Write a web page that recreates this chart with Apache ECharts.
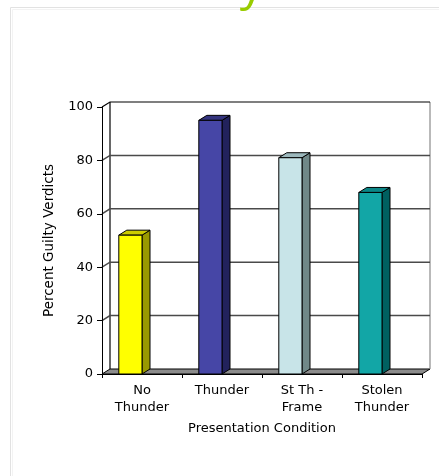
<!DOCTYPE html>
<html>
<head>
<meta charset="utf-8">
<script src="https://cdn.jsdelivr.net/npm/echarts@6/dist/echarts.min.js"></script>
<style>
  html, body { margin: 0; padding: 0; background: #ffffff; }
  #chart { width: 439px; height: 476px; }
</style>
</head>
<body>
<div id="chart"></div>
<script>
// Conditions and percent of guilty verdicts in each
const categories = ['No\nThunder', 'Thunder', 'St Th -\nFrame', 'Stolen\nThunder'];
const guiltyPercent = [52, 95, 81, 68];
const valueTicks = [0, 20, 40, 60, 80, 100];

// Face colours for each bar: front, top, side
const frontColors = ['#ffff00', '#4646a6', '#c8e4e8', '#12a6a6'];
const topColors = ['#cccc00', '#34347e', '#9cb8bc', '#0b8686'];
const sideColors = ['#999900', '#22225c', '#708888', '#006060'];

// Depth of the pseudo-3D box
const DX = 8, DY = 5;

const chart = echarts.init(document.getElementById('chart'), null, { renderer: 'canvas' });
const FONT = '"DejaVu Sans", Verdana, sans-serif';

// Back wall gridlines, side-wall diagonals and floor
function renderWall(params, api) {
  const cs = params.coordSys;
  const v = api.value(0);
  const y = api.coord([0, v])[1];
  const x0 = cs.x, x1 = cs.x + cs.width;
  const children = [];
  if (v === 0) {
    children.push({
      type: 'polygon',
      shape: { points: [[x0, y], [x1, y], [x1 + DX, y - DY], [x0 + DX, y - DY]] },
      style: { fill: '#8c8c8c', stroke: '#000', lineWidth: 1 }
    });
    const yTop = cs.y;
    children.push({
      type: 'line',
      shape: { x1: x0 + DX, y1: y - DY, x2: x0 + DX, y2: yTop - DY },
      style: { stroke: '#000', lineWidth: 1.2 }
    });
    children.push({
      type: 'line',
      shape: { x1: x1 + DX, y1: y - DY, x2: x1 + DX, y2: yTop - DY },
      style: { stroke: '#8a8a8a', lineWidth: 1.2 }
    });
  } else {
    const top = v === valueTicks[valueTicks.length - 1];
    children.push({
      type: 'polyline',
      shape: { points: [[x0, y], [x0 + DX, y - DY], [x1 + DX, y - DY]] },
      style: { stroke: top ? '#000' : '#4a4a4a', lineWidth: top ? 1.2 : 1.5, fill: null }
    });
  }
  return { type: 'group', children: children };
}

// Bars drawn as boxes with front, top and side faces
function renderBar(params, api) {
  const i = api.value(0);
  const v = api.value(1);
  const p = api.coord([i, v]);
  const b = api.coord([i, 0]);
  const w = api.size([1, 0])[0] * 0.29;
  const xr = p[0], xl = p[0] - w;
  const yt = p[1], yb = b[1];
  const stroke = { stroke: '#000', lineWidth: 1 };
  return {
    type: 'group',
    children: [
      {
        type: 'polygon',
        shape: { points: [[xr, yt], [xr + DX, yt - DY], [xr + DX, yb - DY], [xr, yb]] },
        style: Object.assign({ fill: sideColors[i] }, stroke)
      },
      {
        type: 'polygon',
        shape: { points: [[xl, yt], [xl + DX, yt - DY], [xr + DX, yt - DY], [xr, yt]] },
        style: Object.assign({ fill: topColors[i] }, stroke)
      },
      {
        type: 'rect',
        shape: { x: xl, y: yt, width: w, height: yb - yt },
        style: Object.assign({ fill: frontColors[i] }, stroke)
      }
    ]
  };
}

chart.setOption({
  animation: false,
  backgroundColor: '#ffffff',
  graphic: [
    {
      type: 'text', left: 134, top: -38, z: 1,
      style: { text: 'Guilty Verdicts', fill: '#99cc00', font: '48px "Open Sans", sans-serif' }
    },
    {
      type: 'rect', shape: { x: 10.5, y: 7.5, width: 460, height: 500 },
      style: { fill: 'none', stroke: '#e2e2e2', lineWidth: 1 }, z: 0
    },
    {
      type: 'rect', shape: { x: 12.5, y: 9.5, width: 460, height: 500 },
      style: { fill: 'none', stroke: '#f3f3f3', lineWidth: 1 }, z: 0
    }
  ],
  grid: { left: 102, top: 107, width: 320, height: 267 },
  xAxis: {
    type: 'category',
    data: categories,
    boundaryGap: true,
    axisLine: { show: true, lineStyle: { color: '#000', width: 1 } },
    axisTick: { show: true, length: 4, interval: 0, lineStyle: { color: '#000' } },
    axisLabel: { interval: 0, color: '#000', fontFamily: FONT, fontSize: 13, lineHeight: 17, margin: 8 },
    name: 'Presentation Condition',
    nameLocation: 'middle',
    nameGap: 48,
    nameTextStyle: { color: '#000', fontFamily: FONT, fontSize: 13 },
    splitLine: { show: false },
    z: 5
  },
  yAxis: {
    type: 'value',
    min: 0, max: 100, interval: 20,
    axisLine: { show: true, lineStyle: { color: '#000', width: 1 } },
    axisTick: { show: true, length: 5, lineStyle: { color: '#000' } },
    axisLabel: { color: '#000', fontFamily: FONT, fontSize: 13, margin: 9 },
    splitLine: { show: false },
    name: 'Percent Guilty Verdicts',
    nameLocation: 'middle',
    nameGap: 46,
    nameTextStyle: { color: '#000', fontFamily: FONT, fontSize: 13.5 },
    z: 5
  },
  series: [
    {
      type: 'custom',
      renderItem: renderWall,
      data: valueTicks.map(v => [v]),
      encode: { y: 0 },
      z: 1,
      silent: true
    },
    {
      type: 'custom',
      renderItem: renderBar,
      data: guiltyPercent.map((v, i) => [i, v]),
      encode: { x: 0, y: 1 },
      z: 3
    }
  ]
});
</script>
</body>
</html>
